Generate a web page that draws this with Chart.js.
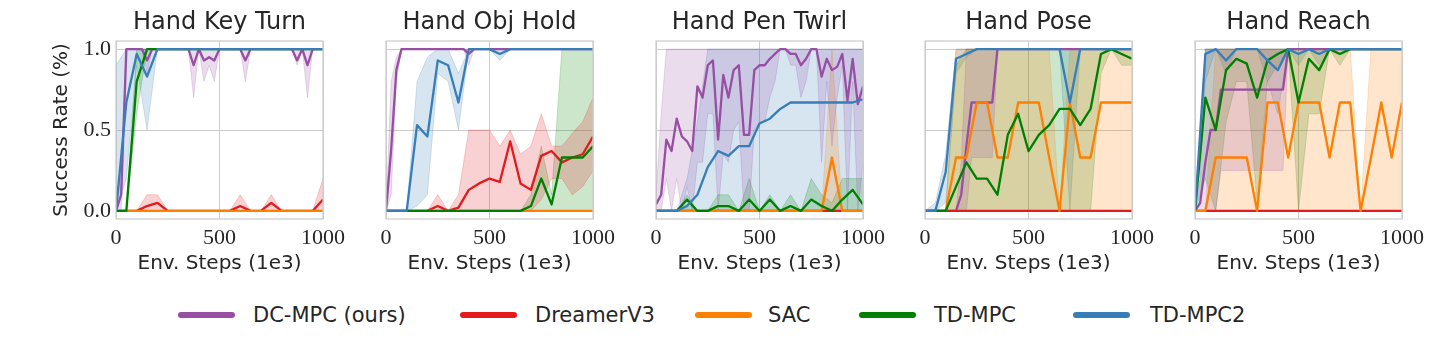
<!DOCTYPE html>
<html>
<head>
<meta charset="utf-8">
<script src="https://cdn.jsdelivr.net/npm/chart.js@4.4.0/dist/chart.umd.min.js"></script>
<style>
  html, body { margin: 0; padding: 0; background: #fff; }
  #wrap { position: relative; width: 1446px; height: 338px; overflow: hidden; }
  .panel { position: absolute; top: 0; }
  .lg-line { position: absolute; height: 6px; border-radius: 3px; top: 312px; }
  .lg-text { position: absolute; top: 303px; line-height: 26px; font: 21px "DejaVu Sans", sans-serif; color: #262626; white-space: nowrap; }
</style>
</head>
<body>
<div id="wrap">
  <canvas id="c0" class="panel" width="360" height="290" style="left:0px"></canvas>
  <canvas id="c1" class="panel" width="360" height="290" style="left:270px"></canvas>
  <canvas id="c2" class="panel" width="360" height="290" style="left:540px"></canvas>
  <canvas id="c3" class="panel" width="360" height="290" style="left:809px"></canvas>
  <canvas id="c4" class="panel" width="360" height="290" style="left:1079px"></canvas>
  <div id="legend"></div>
</div>
<script>
// x positions (1e3 env steps)
const x50 = [0,50,100,150,200,250,300,350,400,450,500,550,600,650,700,750,800,850,900,950,1000];
const x25 = [0,25,50,75,100,125,150,175,200,225,250,275,300,325,350,375,400,425,450,475,500,525,550,575,600,625,650,675,700,725,750,775,800,825,850,875,900,925,950,975,1000];

const taskTitles = ['Hand Key Turn', 'Hand Obj Hold', 'Hand Pen Twirl', 'Hand Pose', 'Hand Reach'];
const methods = ['DC-MPC (ours)', 'DreamerV3', 'SAC', 'TD-MPC', 'TD-MPC2'];
const xTicks = [0, 500, 1000];
const yTicks = [0, 0.5, 1];

// ---- Hand Key Turn ----
const ktDc   = [0,0.1,1,1,1,1,0.93,1,1,1, 1,1,1,1,1,0.9,1,0.93,0.95,0.93, 1,1,1,1,1,0.93,1,1,1,1, 1,1,1,1,1,0.93,1,0.9,1,1, 1];
const ktDcLo = [0,0,1,1,1,1,0.85,1,1,1, 1,1,1,1,1,0.7,1,0.8,0.9,0.8, 1,1,1,1,1,0.8,1,1,1,1, 1,1,1,1,1,0.9,1,0.7,1,1, 1];
const ktDcHi = [0,0.3,1,1,1,1,1,1,1,1, 1,1,1,1,1,1,1,1,1,1, 1,1,1,1,1,1,1,1,1,1, 1,1,1,1,1,1,1,1,1,1, 1];
const ktDr   = [0,0,0,0.03,0.05,0,0,0,0,0, 0,0,0.03,0,0,0.05,0,0,0,0, 0.07];
const ktDrLo = [0,0,0,0,0,0,0,0,0,0, 0,0,0,0,0,0,0,0,0,0, 0];
const ktDrHi = [0,0,0,0.1,0.1,0,0,0,0,0, 0,0,0.1,0,0,0.1,0,0,0,0, 0.2];
const ktSac  = [0,0,0,0,0,0,0,0,0,0, 0,0,0,0,0,0,0,0,0,0, 0];
const ktTd   = [0,0,0.8,1,1,1,1,1,1,1, 1,1,1,1,1,1,1,1,1,1, 1];
const ktTdLo = [0,0,0.6,1,1,1,1,1,1,1, 1,1,1,1,1,1,1,1,1,1, 1];
const ktTdHi = [0,0,1,1,1,1,1,1,1,1, 1,1,1,1,1,1,1,1,1,1, 1];
const ktTd2   = [0,0.67,0.97,0.83,1,1,1,1,1,1, 1,1,1,1,1,1,1,1,1,1, 1];
const ktTd2Lo = [0,0.2,0.9,0.5,1,1,1,1,1,1, 1,1,1,1,1,1,1,1,1,1, 1];
const ktTd2Hi = [0.9,1,1,1,1,1,1,1,1,1, 1,1,1,1,1,1,1,1,1,1, 1];

// ---- Hand Obj Hold ----
const ohDc   = [0,0.38,0.87,1,1,1,1,1,1,1, 1,1,1,1,1,1,0.97,1,1,1, 1,1,1,1,1,1,1,1,1,1, 1,1,1,1,1,1,1,1,1,1, 1];
const ohDcLo = [0,0.1,0.8,1,1,1,1,1,1,1, 1,1,1,1,1,1,0.9,1,1,1, 1,1,1,1,1,1,1,1,1,1, 1,1,1,1,1,1,1,1,1,1, 1];
const ohDcHi = [0,0.8,0.95,1,1,1,1,1,1,1, 1,1,1,1,1,1,1,1,1,1, 1,1,1,1,1,1,1,1,1,1, 1,1,1,1,1,1,1,1,1,1, 1];
const ohDr   = [0,0,0,0,0,0.03,0,0.02,0.13,0.17, 0.2,0.18,0.43,0.17,0.13,0.34,0.37,0.3,0.33,0.35, 0.46];
const ohDrLo = [0,0,0,0,0,0,0,0,0,0, 0,0,0,0,0,0.07,0.2,0.2,0.1,0.15, 0.25];
const ohDrHi = [0,0,0,0,0,0.1,0,0.1,0.5,0.5, 0.5,0.4,0.5,0.35,0.4,0.6,0.4,0.4,0.48,0.55, 0.7];
const ohSac  = [0,0,0,0,0,0,0,0,0,0, 0,0,0,0,0,0,0,0,0,0, 0];
const ohTd   = [0,0,0,0,0,0,0,0,0,0, 0,0,0,0,0.03,0.2,0.04,0.33,0.33,0.33, 0.4];
const ohTdLo = [0,0,0,0,0,0,0,0,0,0, 0,0,0,0,0,0,0,0,0,0, 0];
const ohTdHi = [0,0,0,0,0,0,0,0,0,0, 0,0,0,0,0.1,0.4,0.1,1,1,1, 1];
const ohTd2   = [0,0,0,0.53,0.46,0.93,0.9,0.67,1,1, 1,0.97,1,1,1,1,1,1,1,1, 1];
const ohTd2Lo = [0,0,0,0.03,0.1,0.85,0.8,0.5,1,1, 1,0.93,1,1,1,1,1,1,1,1, 1];
const ohTd2Hi = [0,0,0,0.8,0.95,1,1,0.85,1,1, 1,1,1,1,1,1,1,1,1,1, 1];

// ---- Hand Pen Twirl ----
const ptDc   = [0.04,0.1,0.44,0.37,0.57,0.46,0.43,0.37,0.77,0.7, 0.9,0.93,0.44,0.84,0.7,0.87,0.9,0.47,0.47,0.87, 0.9,0.9,0.94,0.97,1,1,0.97,0.97,0.9,0.94, 1,1,0.83,0.94,0.87,0.89,0.97,0.68,0.94,0.66, 0.77];
const ptDcLo = [0,0,0.2,0,0.2,0,0.15,0,0.3,0.3, 0.6,0.6,0,0.35,0.3,0.5,0.55,0,0,0.5, 0.55,0.55,0.7,0.8,1,1,0.9,0.9,0.7,0.8, 1,1,0.3,0.8,0.4,0.7,0.9,0,0.8,0, 0.3];
const ptDcHi = [0.1,0.6,1,1,1,1,1,1,1,1, 1,1,1,1,1,1,1,1,1,1, 1,1,1,1,1,1,1,1,1,1, 1,1,1,1,1,1,1,1,1,1, 1];
const ptDr   = [0,0,0,0,0,0,0,0,0,0, 0,0,0,0,0,0,0,0,0,0, 0];
const ptSac   = [0,0,0,0,0,0,0,0,0,0, 0,0,0,0,0,0,0,0.33,0,0, 0];
const ptSacLo = [0,0,0,0,0,0,0,0,0,0, 0,0,0,0,0,0,0,0,0,0, 0];
const ptSacHi = [0,0,0,0,0,0,0,0,0,0, 0,0,0,0,0,0,0,1,0,0, 0];
const ptTd   = [0,0,0,0.07,0,0,0.03,0.03,0,0.07, 0,0.07,0,0.03,0,0.07,0.03,0,0.07,0.13, 0.04];
const ptTdLo = [0,0,0,0,0,0,0,0,0,0, 0,0,0,0,0,0,0,0,0,0, 0];
const ptTdHi = [0,0,0,0.1,0,0,0.1,0.1,0,0.2, 0,0.1,0,0.1,0,0.2,0.1,0.05,0.2,0.2, 0.2];
const ptTd2   = [0,0,0,0.03,0.1,0.27,0.37,0.34,0.4,0.4, 0.54,0.57,0.63,0.67,0.67,0.67,0.67,0.67,0.67,0.67, 0.69];
const ptTd2Lo = [0,0,0,0,0,0,0,0,0,0, 0,0,0,0,0,0,0,0,0,0, 0];
const ptTd2Hi = [0,0,0,0.2,0.55,1,1,1,1,1, 1,1,1,1,1,1,1,1,1,1, 1];

// ---- Hand Pose ----
const poDc   = [0,0,0,0,0,0,0,0.1,0.4,0.67, 0.67,0.67,0.67,0.67,1,1,1,1,1,1, 1,1,1,1,1,1,1,1,1,1, 1,1,1,1,1,1,1,1,1,1, 1];
const poDcLo = [0,0,0,0,0,0,0,0,0,0.33, 0.33,0.33,0.33,0.33,1,1,1,1,1,1, 1,1,1,1,1,1,1,1,1,1, 1,1,1,1,1,1,1,1,1,1, 1];
const poDcHi = [0,0,0,0,0,0,0,0.3,1,1, 1,1,1,1,1,1,1,1,1,1, 1,1,1,1,1,1,1,1,1,1, 1,1,1,1,1,1,1,1,1,1, 1];
const poDr   = [0,0,0,0,0,0,0,0,0,0, 0,0,0,0,0,0,0,0,0,0, 0];
const poSac   = [0,0,0,0.33,0.33,0.67,0.67,0.33,0.33,0.67, 0.67,0.67,0.33,0,0.67,0.33,0.33,0.67,0.67,0.67, 0.67];
const poSacLo = [0,0,0,0,0,0,0,0,0,0, 0,0,0,0,0,0,0,0,0,0, 0];
const poSacHi = [0,0,0,1,1,1,1,1,1,1, 1,1,1,0,1,1,1,1,1,1, 1];
const poTd   = [0,0,0,0.15,0.3,0.2,0.2,0.1,0.47,0.6, 0.37,0.47,0.53,0.63,0.63,0.53,0.63,0.97,1,0.97, 0.94];
const poTdLo = [0,0,0,0,0,0,0,0,0,0, 0,0,0,0,0,0,0,0.85,1,0.9, 0.9];
const poTdHi = [0,0,0,0.9,1,1,1,1,1,1, 1,1,1,1,1,1,1,1,1,1, 1];
const poTd2   = [0,0,0.24,0.94,0.97,1,1,1,1,1, 1,1,1,1,0.67,1,1,1,1,1, 1];
const poTd2Lo = [0,0,0.05,0.85,0.95,1,1,1,1,1, 1,1,1,1,0,1,1,1,1,1, 1];
const poTd2Hi = [0,0.05,0.35,1,1,1,1,1,1,1, 1,1,1,1,1,1,1,1,1,1, 1];

// ---- Hand Reach ----
const reDc   = [0,0.05,0.3,0.5,0.5,0.75,0.75,0.75,0.75,0.75, 0.75,0.75,0.75,0.75,0.75,0.75,0.75,0.75,1,1, 1,1,1,1,1,1,1,1,1,1, 1,1,1,1,1,1,1,1,1,1, 1];
const reDcLo = [0,0,0,0,0,0.25,0.25,0.25,0.25,0.25, 0.25,0.25,0.25,0.25,0.25,0.25,0.25,0.25,1,1, 1,1,1,1,1,1,1,1,1,1, 1,1,1,1,1,1,1,1,1,1, 1];
const reDcHi = [0,0.2,1,1,1,1,1,1,1,1, 1,1,1,1,1,1,1,1,1,1, 1,1,1,1,1,1,1,1,1,1, 1,1,1,1,1,1,1,1,1,1, 1];
const reDr   = [0,0,0,0,0,0,0,0,0,0, 0,0,0,0,0,0,0,0,0,0, 0];
const reSac   = [0,0,0.33,0.33,0.33,0.33,0,0.67,0.67,0.33, 0.67,0.67,0.67,0.33,0.67,0.67,0,0.33,0.67,0.33, 0.67];
const reSacLo = [0,0,0,0,0,0,0,0,0,0, 0,0,0,0,0,0,0,0,0,0, 0];
const reSacHi = [0,0,1,1,1,1,1,1,1,1, 1,1,1,1,1,1,0,1,1,1, 1];
const reTd   = [0,0.7,0.5,0.87,0.94,0.91,0.7,0.93,0.97,1, 0.67,0.94,0.87,1,0.97,1,1,1,1,1, 1];
const reTdLo = [0,0.2,0,0.55,0.8,0.8,0.05,0.8,0.9,1, 0,0.6,0.6,1,0.9,1,1,1,1,1, 1];
const reTdHi = [0,1,1,1,1,1,1,1,1,1, 1,1,1,1,1,1,1,1,1,1, 1];
const reTd2   = [0,0.97,1,0.93,1,1,1,0.93,0.87,1, 0.97,1,0.97,1,1,1,1,1,1,1, 1];
const reTd2Lo = [0,0.8,1,0.85,1,1,1,0.8,0.6,1, 0.9,1,0.9,1,1,1,1,1,1,1, 1];
const reTd2Hi = [0,1,1,1,1,1,1,1,1,1, 1,1,1,1,1,1,1,1,1,1, 1];

const colors = ['#984ea3', '#e41a1c', '#ff7f00', '#008000', '#377eb8'];
const SANS = '"DejaVu Sans", sans-serif';
const SERIF = '"Liberation Serif", serif';
const INK = '#262626';

// series per task, in legend order
const tasks = [
  [[x25, ktDc, ktDcLo, ktDcHi], [x50, ktDr, ktDrLo, ktDrHi], [x50, ktSac, null, null], [x50, ktTd, ktTdLo, ktTdHi], [x50, ktTd2, ktTd2Lo, ktTd2Hi]],
  [[x25, ohDc, ohDcLo, ohDcHi], [x50, ohDr, ohDrLo, ohDrHi], [x50, ohSac, null, null], [x50, ohTd, ohTdLo, ohTdHi], [x50, ohTd2, ohTd2Lo, ohTd2Hi]],
  [[x25, ptDc, ptDcLo, ptDcHi], [x50, ptDr, null, null], [x50, ptSac, ptSacLo, ptSacHi], [x50, ptTd, ptTdLo, ptTdHi], [x50, ptTd2, ptTd2Lo, ptTd2Hi]],
  [[x25, poDc, poDcLo, poDcHi], [x50, poDr, null, null], [x50, poSac, poSacLo, poSacHi], [x50, poTd, poTdLo, poTdHi], [x50, poTd2, poTd2Lo, poTd2Hi]],
  [[x25, reDc, reDcLo, reDcHi], [x50, reDr, null, null], [x50, reSac, reSacLo, reSacHi], [x50, reTd, reTdLo, reTdHi], [x50, reTd2, reTd2Lo, reTd2Hi]]
];

function pts(xs, ys) {
  return xs.map((x, i) => ({ x: x, y: ys[i] }));
}

function alpha(hex, a) {
  const n = parseInt(hex.slice(1), 16);
  return `rgba(${(n >> 16) & 255}, ${(n >> 8) & 255}, ${n & 255}, ${a})`;
}

// matplotlib-like frame round the axes
const framePlugin = {
  id: 'frame',
  afterDatasetsDraw(chart) {
    const { ctx, chartArea: a } = chart;
    ctx.save();
    ctx.strokeStyle = '#cccccc';
    ctx.lineWidth = 1.25;
    ctx.strokeRect(a.left, a.top, a.right - a.left, a.bottom - a.top);
    ctx.restore();
  }
};

function makeChart(idx) {
  const datasets = [];
  tasks[idx].forEach((s, k) => {
    const [xs, ys, lo, hi] = s;
    if (lo && hi) {
      datasets.push({ data: pts(xs, hi), borderColor: alpha(colors[k], 0.2), borderWidth: 1, pointRadius: 0, fill: false, order: 20 });
      datasets.push({ data: pts(xs, lo), borderColor: alpha(colors[k], 0.2), borderWidth: 1, pointRadius: 0,
                      fill: '-1', backgroundColor: alpha(colors[k], 0.2), order: 20 });
    }
  });
  tasks[idx].forEach((s, k) => {
    datasets.push({ label: methods[k], data: pts(s[0], s[1]), borderColor: colors[k], borderWidth: 2.3,
                    borderJoinStyle: 'round', pointRadius: 0, fill: false, order: 10 - k });
  });

  const showY = idx === 0;
  return new Chart(document.getElementById('c' + idx), {
    type: 'line',
    data: { datasets: datasets },
    plugins: [framePlugin],
    options: {
      responsive: false,
      animation: false,
      devicePixelRatio: 1,
      events: [],
      layout: { padding: { left: 0, right: 37, top: 0, bottom: 0 } },
      elements: { line: { tension: 0 } },
      plugins: {
        legend: { display: false },
        tooltip: { enabled: false },
        title: {
          display: true, fullSize: false, text: taskTitles[idx], color: INK,
          font: { family: SANS, size: 24, weight: 'normal' },
          padding: { top: 8.8, bottom: 3.4 }
        }
      },
      scales: {
        x: {
          type: 'linear', min: 0, max: 1000,
          afterBuildTicks: sc => { sc.ticks = xTicks.map(v => ({ value: v })); },
          afterFit: sc => { sc.height = 71; },
          grid: { color: '#cccccc', lineWidth: 1, drawTicks: false },
          border: { display: false },
          ticks: { color: INK, font: { family: SERIF, size: 22 }, padding: 6, maxRotation: 0, autoSkip: false,
                   callback: v => String(v) },
          title: { display: true, text: 'Env. Steps (1e3)', color: INK, font: { family: SANS, size: 20 },
                   padding: { top: 0, bottom: 14 } }
        },
        y: {
          min: -0.05, max: 1.05,
          afterBuildTicks: sc => { sc.ticks = yTicks.map(v => ({ value: v })); },
          afterFit: sc => { sc.width = 116; },
          grid: { color: '#cccccc', lineWidth: 1, drawTicks: false },
          border: { display: false },
          ticks: { display: showY, color: INK, font: { family: SERIF, size: 22 }, padding: 5,
                   callback: v => v.toFixed(1) },
          title: { display: showY, text: 'Success Rate (%)', color: INK, font: { family: SANS, size: 20 },
                   padding: { top: 49.6, bottom: 0 } }
        }
      }
    }
  });
}

for (let i = 0; i < 5; i++) makeChart(i);

// legend below the panels
const legendLines = [178, 460, 695, 859, 1073];
const legendTexts = [253, 535, 768, 934, 1150];
const legend = document.getElementById('legend');
methods.forEach((m, k) => {
  const line = document.createElement('div');
  line.className = 'lg-line';
  line.style.left = legendLines[k] + 'px';
  line.style.width = '57px';
  line.style.background = colors[k];
  legend.appendChild(line);
  const txt = document.createElement('div');
  txt.className = 'lg-text';
  txt.style.left = legendTexts[k] + 'px';
  txt.textContent = m;
  legend.appendChild(txt);
});
</script>
</body>
</html>
